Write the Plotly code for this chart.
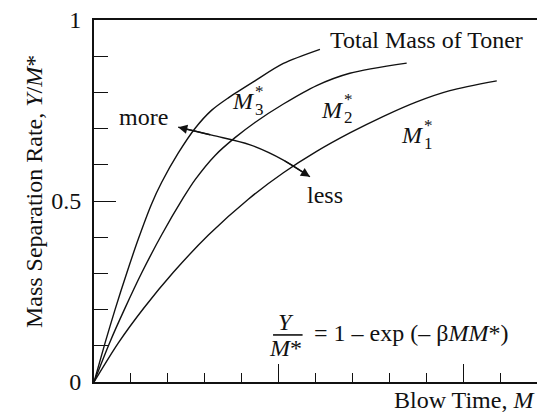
import plotly.graph_objects as go

# curves (blow time M, separation rate Y/M*)
m3_x = [0, 0.30, 0.57, 0.89, 1.20, 1.56, 1.83, 2.28, 2.74, 3.19, 3.64, 4.36, 5.13, 6.12]
m3_y = [0, 0.108, 0.200, 0.302, 0.395, 0.492, 0.551, 0.632, 0.701, 0.751, 0.785, 0.832, 0.880, 0.919]

m2_x = [0, 0.43, 0.84, 1.29, 1.83, 2.42, 2.74, 3.28, 3.82, 4.36, 5.13, 6.03, 6.93, 8.47]
m2_y = [0, 0.110, 0.204, 0.301, 0.406, 0.509, 0.559, 0.626, 0.675, 0.717, 0.768, 0.819, 0.853, 0.881]

m1_x = [0, 0.66, 1.34, 2.15, 3.10, 4.18, 5.13, 6.03, 6.93, 7.84, 8.74, 9.64, 10.91]
m1_y = [0, 0.108, 0.203, 0.303, 0.406, 0.505, 0.578, 0.637, 0.688, 0.734, 0.774, 0.805, 0.832]

# curved "more / less" arrow
arrow_x = [2.28, 3.19, 4.23, 5.13, 5.85]
arrow_y = [0.704, 0.682, 0.655, 0.613, 0.567]

y_major = [0, 0.5, 1]
y_labels = ["0", "0.5", "1"]
y_minor = [0.1, 0.2, 0.3, 0.4, 0.6, 0.7, 0.8, 0.9]
x_major = [5, 10]
x_minor = [1, 2, 3, 4, 6, 7, 8, 9, 11]

font = "Liberation Serif"
fs = 24
ink = "#111111"

fig = go.Figure()
for xs, ys in [(m3_x, m3_y), (m2_x, m2_y), (m1_x, m1_y)]:
    fig.add_trace(go.Scatter(x=xs, y=ys, mode="lines",
                             line=dict(color=ink, width=1.4, shape="spline", smoothing=0.8),
                             hoverinfo="skip", showlegend=False))

fig.add_trace(go.Scatter(x=arrow_x, y=arrow_y, mode="lines", line=dict(color=ink, width=1.4, shape="spline"),
                         hoverinfo="skip", showlegend=False))

# arrow heads at both ends
fig.add_annotation(x=arrow_x[0], y=arrow_y[0], ax=arrow_x[1], ay=arrow_y[1], xref="x", yref="y",
                   axref="x", ayref="y", text="", showarrow=True, arrowhead=2, arrowsize=1.3,
                   arrowwidth=1.4, arrowcolor=ink)
fig.add_annotation(x=arrow_x[-1], y=arrow_y[-1], ax=arrow_x[-2], ay=arrow_y[-2], xref="x", yref="y",
                   axref="x", ayref="y", text="", showarrow=True, arrowhead=2, arrowsize=1.3,
                   arrowwidth=1.4, arrowcolor=ink)

def label(x, y, text, anchor="center", **kw):
    fig.add_annotation(x=x, y=y, text=text, showarrow=False, xanchor=anchor, yanchor="middle",
                       font=dict(family=font, size=fs, color=ink), **kw)

label(6.34, 0.945, "Total Mass of Toner", "left")
label(1.35, 0.732, "more")
label(6.26, 0.517, "less")

# M* labels with stacked sub/superscript
for x, y, n in [(4.05, 0.775, "3"), (6.45, 0.752, "2"), (8.63, 0.682, "1")]:
    label(x, y, "<i>M</i>")
    fig.add_annotation(x=x, y=y, text=n, showarrow=False, xshift=16, yshift=-8,
                       font=dict(family=font, size=17, color=ink))
    fig.add_annotation(x=x, y=y, text="*", showarrow=False, xshift=16, yshift=10,
                       font=dict(family=font, size=17, color=ink))

# formula
label(5.2, 0.165, "<i>Y</i>")
label(5.2, 0.095, "<i>M</i>*")
fig.add_shape(type="line", x0=4.85, x1=5.65, y0=0.13, y1=0.13, xref="x", yref="y",
              line=dict(color=ink, width=1.6))
label(5.9, 0.135, "= 1 – exp (– β<i>MM</i>*)", "left")

# axis titles
fig.add_annotation(x=-0.169, y=0.525, xref="paper", yref="paper", text="Mass Separation Rate, <i>Y</i>/<i>M</i>*",
                   textangle=-90, showarrow=False, font=dict(family=font, size=fs, color=ink))
fig.add_annotation(x=1.0, y=-0.05, xref="paper", yref="paper", text="Blow Time, <i>M</i>", xanchor="right",
                   yanchor="middle", showarrow=False, font=dict(family=font, size=fs, color=ink))

fig.update_xaxes(range=[0, 12], showgrid=False, zeroline=False, showline=True, linecolor=ink, linewidth=1.8,
                 mirror=True, ticks="inside", tickmode="array", tickvals=x_major, ticklen=18, tickwidth=1.4,
                 tickcolor=ink, showticklabels=False,
                 minor=dict(tickmode="array", tickvals=x_minor, ticks="inside", ticklen=9, tickwidth=1.4,
                            tickcolor=ink))
fig.update_yaxes(range=[0, 1], showgrid=False, zeroline=False, showline=True, linecolor=ink, linewidth=1.8,
                 ticks="inside", tickmode="array", tickvals=y_major, ticktext=y_labels, ticklen=22,
                 tickwidth=1.4, tickcolor=ink, ticklabelstandoff=6,
                 tickfont=dict(family=font, size=fs, color=ink),
                 minor=dict(tickmode="array", tickvals=y_minor, ticks="inside", ticklen=14, tickwidth=1.4,
                            tickcolor=ink))

fig.update_layout(width=537, height=413, margin=dict(l=94, r=0, t=20, b=31),
                  plot_bgcolor="white", paper_bgcolor="white")

# page has a default body margin; drop it so the figure sits at the window corner
fig.write_html("out.html", config={"displayModeBar": False},
               post_script="document.body.style.margin='0';")
